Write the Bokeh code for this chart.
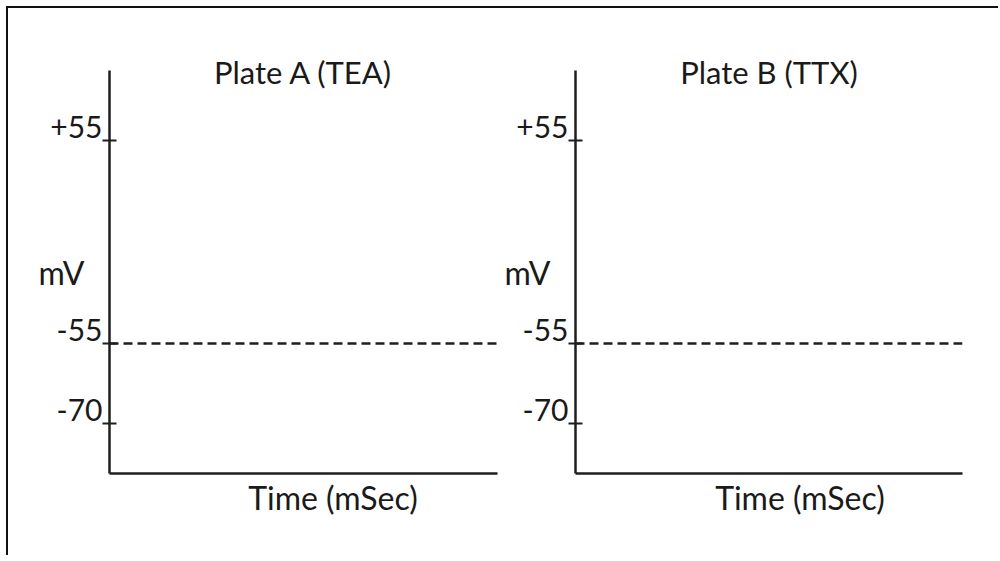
from bokeh.plotting import figure
from bokeh.models import Range1d, FixedTicker, Span, Title, LinearAxis
from bokeh.layouts import row
from bokeh.embed import file_html
from bokeh.resources import INLINE

# ---- data (schematic, not to scale) ----
panel_titles = ["Plate A (TEA)", "Plate B (TTX)"]
y_label = "mV"
x_label = "Time (mSec)"
tick_labels = ["+55", "-55", "-70"]
tick_levels = [333, 130, 50]          # schematic vertical positions of the voltage marks
threshold_label = "-55"               # dashed threshold line
y_extent = [0, 403]
x_extent = [0, 10]

# ---- layout / style ----
FONT = "Lato"
INK = "#1a1a1a"
LINE = "#1e1e1e"
H = 555
LABEL_RAISE = 14        # tick labels sit above their tick marks (px)
panel_geo = [  # width, min_border_left, min_border_right, xlabel_x
    (501, 109, 4, 5.76),
    (497, 72, 36, 5.80),
]


def make_panel(title, geo):
    w, bl, br, lx = geo
    p = figure(width=w, height=H, output_backend="svg", toolbar_location=None,
               x_range=Range1d(*x_extent), y_range=Range1d(*y_extent),
               min_border_left=bl, min_border_right=br,
               min_border_top=70, min_border_bottom=H - 70 - 403, title=None)
    p.outline_line_color = None
    p.grid.visible = False
    p.background_fill_color = "white"
    p.border_fill_color = None

    # axis with the tick marks
    ya = p.yaxis[0]
    ya.ticker = FixedTicker(ticks=tick_levels)
    ya.major_label_overrides = {v: "" for v in tick_levels}
    ya.major_label_standoff = 0
    ya.axis_label_standoff = 0
    ya.major_tick_in = 7
    ya.major_tick_out = 7
    ya.major_tick_line_width = 2
    ya.major_tick_line_color = LINE
    ya.minor_tick_line_color = None
    ya.axis_line_width = 2.5
    ya.axis_line_color = LINE

    # companion axis carrying the tick labels (raised above the marks) and "mV"
    p.extra_y_ranges = {"lbl": Range1d(y_extent[0] - LABEL_RAISE,
                                       y_extent[1] - LABEL_RAISE)}
    la = LinearAxis(y_range_name="lbl", ticker=FixedTicker(ticks=tick_levels),
                    major_label_overrides=dict(zip(tick_levels, tick_labels)))
    la.axis_line_color = None
    la.major_tick_line_color = None
    la.minor_tick_line_color = None
    la.major_tick_in = 0
    la.major_tick_out = 0
    la.major_label_standoff = 0
    la.major_label_text_font = FONT
    la.major_label_text_font_size = "30px"
    la.major_label_text_color = INK
    la.axis_label = y_label
    la.axis_label_orientation = "horizontal"
    la.axis_label_standoff = -37
    la.axis_label_text_font = FONT
    la.axis_label_text_font_size = "32px"
    la.axis_label_text_font_style = "normal"
    la.axis_label_text_color = INK
    p.add_layout(la, "left")

    xa = p.xaxis[0]
    xa.ticker = FixedTicker(ticks=[lx])
    xa.major_label_overrides = {lx: x_label}
    xa.major_tick_line_color = None
    xa.minor_tick_line_color = None
    xa.major_tick_in = 0
    xa.major_tick_out = 0
    xa.major_label_standoff = 4
    xa.major_label_text_font = FONT
    xa.major_label_text_font_size = "32px"
    xa.major_label_text_color = INK
    xa.axis_line_width = 2.5
    xa.axis_line_color = LINE

    p.add_layout(Title(text=title, align="center", standoff=-41,
                       text_font=FONT, text_font_size="31px",
                       text_font_style="normal", text_color=INK), "above")

    thr = tick_levels[tick_labels.index(threshold_label)]
    p.add_layout(Span(location=thr, dimension="width", line_color=LINE,
                      line_width=2.5, line_dash="9 5"))
    return p


panels = [make_panel(t, g) for t, g in zip(panel_titles, panel_geo)]
layout = row(*panels, styles={
    "box-shadow": "inset 6px 6px 0 0 #ffffff, inset 8px 8px 0 0 #111111",
    "background-color": "#ffffff",
})

open("out.html", "w").write(file_html(layout, INLINE))
